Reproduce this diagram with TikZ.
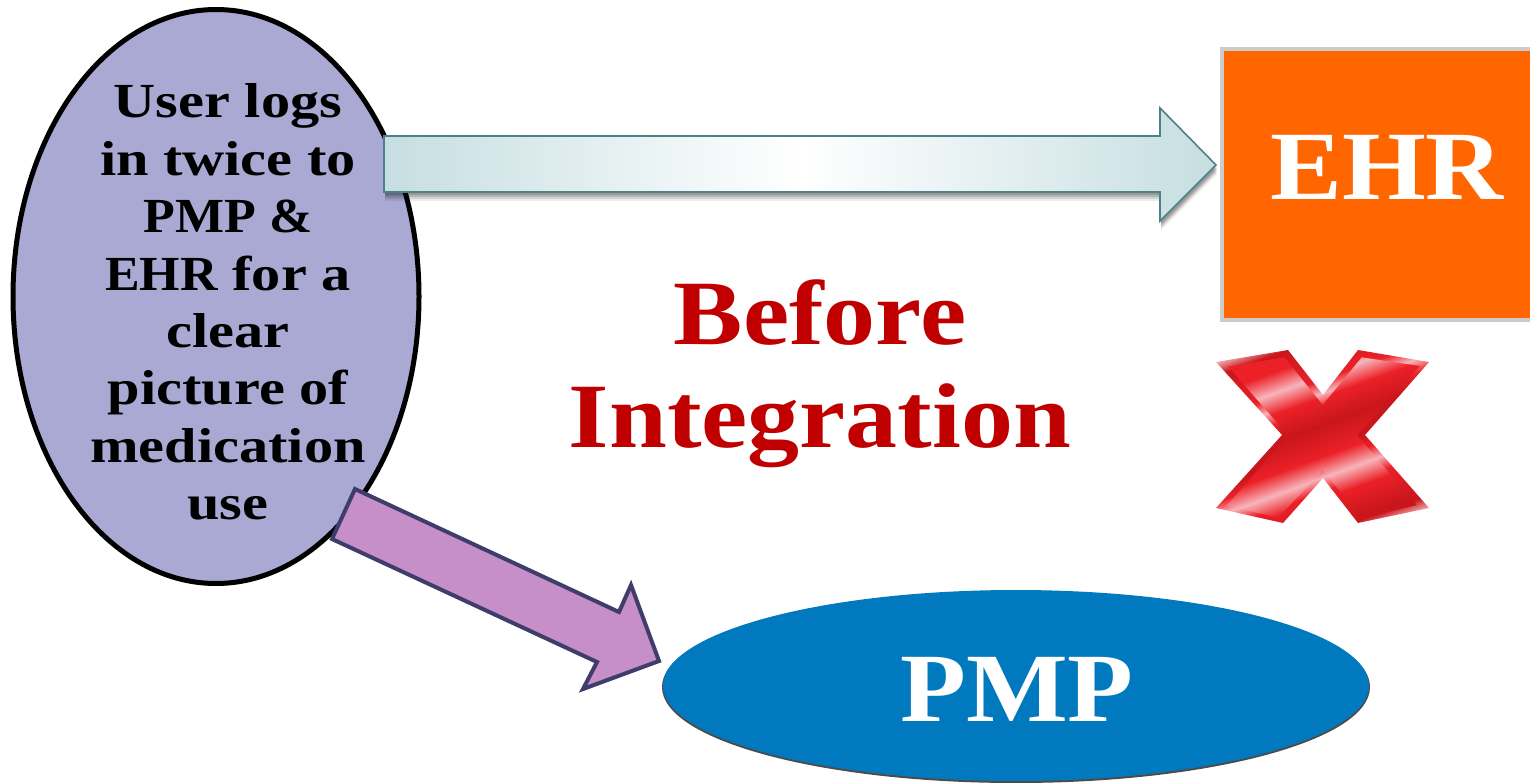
\documentclass[tikz,border=0pt]{standalone}
\usepackage{fontspec}
\setmainfont{Liberation Serif}[FakeStretch=1.19]
\newfontfamily\capsfont{Liberation Serif}[FakeStretch=1.06]
\newfontfamily\bigcaps{Liberation Serif}[FakeStretch=1.1]
\newfontfamily\titlefont{Liberation Serif}[FakeStretch=1.13]
\usetikzlibrary{calc}
\definecolor{xpink}{HTML}{F7B4BA}
\definecolor{xred}{HTML}{EC2027}
\definecolor{xdark}{HTML}{C8161C}
\definecolor{titlered}{HTML}{C00000}
\definecolor{arrowteal}{HTML}{4A8288}
\definecolor{arrowend}{HTML}{C6DEE1}
\definecolor{arrowindigo}{HTML}{3F3D6B}
\definecolor{arrowpurple}{HTML}{C78FC8}
\definecolor{ehrorange}{HTML}{FF6600}
\definecolor{userfill}{HTML}{A9A9D3}
\definecolor{pmpblue}{HTML}{0079BF}
\pgfdeclareverticalshading{xface}{100bp}{color(0bp)=(xdark);color(25bp)=(xdark);color(28bp)=(xdark);color(35bp)=(xred);color(40bp)=(xpink);color(45bp)=(xred);color(52.5bp)=(xdark);color(59bp)=(xred);color(64bp)=(xpink);color(69bp)=(xred);color(75bp)=(xred);color(100bp)=(xred)}
\pgfdeclareverticalshading{xbevel}{100bp}{color(0bp)=(xpink);color(26bp)=(xpink);color(29bp)=(xdark);color(38bp)=(xred);color(41bp)=(xpink);color(44bp)=(xred);color(47bp)=(xdark);color(53bp)=(xdark);color(56bp)=(xred);color(59bp)=(xpink);color(62bp)=(xred);color(71bp)=(xdark);color(74bp)=(xpink);color(100bp)=(xpink)}
\tikzset{
  x=1pt,y=-1pt,
  txt/.style={align=center,inner sep=0pt},
  usertext/.style={txt,text=black,font=\fontsize{49}{57.4}\selectfont\bfseries},
  bigwhite/.style={txt,text=white,font=\bigcaps\fontsize{98}{100}\selectfont\bfseries},
  title/.style={txt,text=titlered,font=\titlefont\fontsize{92}{103}\selectfont\bfseries},
  teal arrow/.style={draw=arrowteal,line width=1.6pt,line join=miter,left color=arrowend,right color=arrowend,middle color=white},
  purple arrow/.style={draw=arrowindigo,fill=arrowpurple,line width=4pt,line join=miter},
}
\begin{document}
\begin{tikzpicture}
\useasboundingbox (0,0) rectangle (1530,782);
% EHR box
\fill[black!20] (1220,47) rectangle (1530,322);
\node[fill=ehrorange,minimum width=306pt,minimum height=267pt,inner sep=0pt,anchor=north west] (ehr) at (1224,51) {};
\node[bigwhite] (ehrt) at (1387,167) {EHR};
% user ellipse
\draw[fill=userfill,draw=black,line width=5pt] (216,296.5) ellipse [x radius=203, y radius=287];
\node[usertext] (user) at (228,302) {User logs\\in twice to\\{\capsfont\bfseries PMP \&}\\{\capsfont\bfseries EHR} for a\\clear\\picture of\\medication\\use};
% PMP
\fill[black!70] (1016,687) ellipse [x radius=354, y radius=96];
\fill[pmpblue] (1016,685.5) ellipse [x radius=353, y radius=95.5];
\node[bigwhite] (pmp) at (1017,689) {PMP};
% teal arrow shadow
\foreach \o/\a in {9/0.07,7/0.10,5/0.14,3/0.16}{
 \fill[black,opacity=\a] ($(384,136)+(1,\o)$) -- ($(1160,136)+(1,\o)$) -- ($(1160,108)+(1,\o)$) -- ($(1216,165)+(1,\o)$) -- ($(1160,221)+(1,\o)$) -- ($(1160,192)+(1,\o)$) -- ($(384,192)+(1,\o)$) -- cycle;
}
\path[teal arrow] (384,136) -- (1160,136) -- (1160,108) -- (1216,165) -- (1160,221) -- (1160,192) -- (384,192) -- cycle;
% purple arrow
\path[purple arrow] (355,489) -- (619,612) -- (631,585) -- (659,661) -- (583,689) -- (597,662) -- (332,539) -- cycle;
% title
\node[title] (before) at (820,374) {Before\\Integration};
% red X
\coordinate (xc) at (1323,435);
\begin{scope}
\clip (1216,362) -- (1288,350) -- (1323,395) -- (1358,350) -- (1429,362) -- (1365,435) -- (1429,508) -- (1358,523) -- (1323,478) -- (1283,523) -- (1216,508) -- (1282,435) -- cycle;
\begin{scope}[transform canvas={rotate around={20:(xc)}}]
\shade[shading=xbevel] (1143,325) rectangle (1503,545);
\end{scope}
\end{scope}
\begin{scope}
\clip (1228.3,366.7) -- (1284.3,357.3) -- (1322.7,405) -- (1361.7,357.3) -- (1420,366) -- (1357,435) -- (1416.7,505) -- (1361.7,518.3) -- (1322.7,470) -- (1278.3,517.7) -- (1226.7,505.7) -- (1288,435) -- cycle;
\begin{scope}[transform canvas={rotate around={20:(xc)}}]
\shade[shading=xface] (1143,335) rectangle (1503,535);
\end{scope}
\end{scope}
\end{tikzpicture}
\end{document}
